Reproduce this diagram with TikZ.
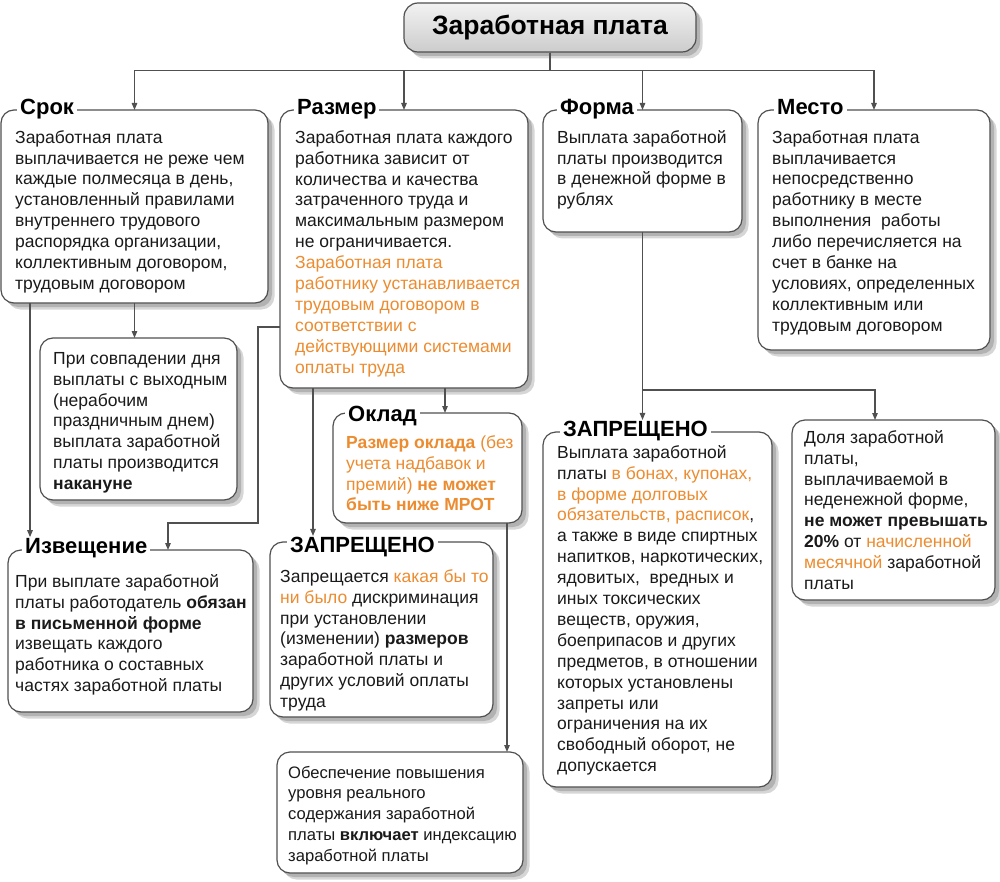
\documentclass[tikz,border=0pt]{standalone}
\usepackage{fontspec}
\setmainfont{Liberation Sans}
\usetikzlibrary{arrows.meta,calc}
\definecolor{ln}{HTML}{505050}
\definecolor{org}{RGB}{236,140,48}
\definecolor{tx}{HTML}{1A1A1A}
\newcommand{\og}[1]{\textcolor{org}{#1}}
\newcommand{\mkbox}[5]{\node[box, minimum width={(#4-#2)*1pt}, minimum height={(#5-#3)*1pt}] (#1) at (#2,#3) {};}
\tikzset{
  shad/.style={preaction={fill=black!16, transform canvas={xshift=6.5pt,yshift=-6.5pt}},
               preaction={fill=black!30, transform canvas={xshift=4pt,yshift=-4pt}}},
  box/.style={shad, draw=ln, line width=1.2pt, rounded corners=13pt, fill=white,
              inner sep=0pt, outer sep=0pt, anchor=north west},
  txt/.style={anchor=north west, align=left, inner sep=0pt, text=tx,
              font=\fontsize{17.5}{20.9}\selectfont},
  head/.style={anchor=base west, fill=white, inner xsep=3pt, inner ysep=0.5pt, text=black,
               xshift=-3pt, font=\bfseries\fontsize{22}{24}\selectfont},
  arr/.style={draw=ln, line width=1.2pt, -{Triangle[length=7pt,width=5.5pt]}},
}
\newcommand{\st}{\rule{0pt}{14pt}}
\begin{document}
\begin{tikzpicture}[x=1pt,y=-1pt]
\useasboundingbox (0,0) rectangle (1000,882);
% title
\node[shad, draw=ln, line width=1.2pt, rounded corners=14pt, top color=black!5, bottom color=black!20,
      minimum width=292pt, minimum height=49pt, inner sep=0pt,
      font=\bfseries\fontsize{26.5}{28}\selectfont] (title) at (550,27.5) {Заработная плата};
% boxes
\mkbox{srok}{1}{110}{268}{303}
\mkbox{razmer}{280}{110}{528}{388}
\mkbox{forma}{543}{110}{742}{232}
\mkbox{mesto}{758}{110}{990}{350}
\mkbox{sovp}{40}{338}{237}{500}
\mkbox{oklad}{333}{413}{522}{523}
\mkbox{izv}{8}{550}{253}{712}
\mkbox{zapr2}{270}{542}{493}{717}
\mkbox{zapr3}{543}{432}{772}{787}
\mkbox{dolya}{792}{420}{995}{600}
\mkbox{obesp}{277}{752}{523}{873}
% headings
\node[head] (hsrok) at (20,115) {Срок};
\node[head] (hrazmer) at (297,115) {Размер};
\node[head] (hforma) at (560,115) {Форма};
\node[head] (hmesto) at (777,115) {Место};
\node[head] (hoklad) at (348,421) {Оклад};
\node[head] (hizv) at (25,553) {Извещение};
\node[head] (hzapr2) at (290,552) {ЗАПРЕЩЕНО};
\node[head] (hzapr3) at (563,436) {ЗАПРЕЩЕНО};
% texts
\node[txt] (tsrok) at (15,129) {\st Заработная плата\\выплачивается не реже чем\\каждые полмесяца в день,\\установленный правилами\\внутреннего трудового\\распорядка организации,\\коллективным договором,\\трудовым договором};
\node[txt] (trazmer) at (295,129) {\st Заработная плата каждого\\работника зависит от\\количества и качества\\затраченного труда и\\максимальным размером\\не ограничивается.\\\og{Заработная плата}\\\og{работнику устанавливается}\\\og{трудовым договором в}\\\og{соответствии с}\\\og{действующими системами}\\\og{оплаты труда}};
\node[txt] (tforma) at (557,129) {\st Выплата заработной\\платы производится\\в денежной форме в\\рублях};
\node[txt] (tmesto) at (772,129) {\st Заработная плата\\выплачивается\\непосредственно\\работнику в месте\\выполнения~ работы\\либо перечисляется на\\счет в банке на\\условиях, определенных\\коллективным или\\трудовым договором};
\node[txt] (tsovp) at (53,350) {\st При совпадении дня\\выплаты с выходным\\(нерабочим\\праздничным днем)\\выплата заработной\\платы производится\\\textbf{накануне}};
\node[txt, text=org] (toklad) at (346,434) {\st\textbf{Размер оклада} (без\\учета надбавок и\\премий) \textbf{не может}\\\textbf{быть ниже МРОТ}};
\node[txt] (tizv) at (15,573) {\st При выплате заработной\\платы работодатель \textbf{обязан}\\\textbf{в письменной форме}\\извещать каждого\\работника о составных\\частях заработной платы};
\node[txt] (tzapr2) at (280,568) {\st Запрещается \og{какая бы то}\\\og{ни было} дискриминация\\при установлении\\(изменении) \textbf{размеров}\\заработной платы и\\других условий оплаты\\труда};
\node[txt] (tzapr3) at (557,444) {\st Выплата заработной\\платы \og{в бонах, купонах,}\\\og{в форме долговых}\\\og{обязательств, расписок},\\а также в виде спиртных\\напитков, наркотических,\\ядовитых,~ вредных и\\иных токсических\\веществ, оружия,\\боеприпасов и других\\предметов, в отношении\\которых установлены\\запреты или\\ограничения на их\\свободный оборот, не\\допускается};
\node[txt] (tdolya) at (804,429) {\st Доля заработной\\платы,\\выплачиваемой в\\неденежной форме,\\\textbf{не может превышать}\\\textbf{20\%} от \og{начисленной}\\\og{месячной} заработной\\платы};
\node[txt, font=\fontsize{16.6}{20.7}\selectfont] (tobesp) at (288,764) {\st Обеспечение повышения\\уровня реального\\содержания заработной\\платы \textbf{включает} индексацию\\заработной платы};
% connectors
\draw[arr] (title.south) -- ++(0,18) -| (srok.north);
\draw[arr] (title.south) -- ++(0,18) -| (razmer.north);
\draw[arr] (title.south) -- ++(0,18) -| (forma.north);
\draw[arr] (title.south) -- ++(0,18) -| (mesto.north);
\draw[arr] (srok.south) -- (srok.south |- sovp.north);
\coordinate (a1) at ([xshift=29pt]srok.south west);
\draw[arr] (a1) -- (a1 |- hizv.north);
\coordinate (a2) at ([yshift=-78pt]razmer.west);
\draw[arr] (a2) -- ++(-22,0) -- ++(0,196) -| ([xshift=160pt]izv.north west);
\coordinate (a3) at ([xshift=112pt]oklad.north west);
\draw[arr] (a3 |- razmer.south) -- (a3);
\coordinate (a4) at ([xshift=43pt]zapr2.north west);
\draw[arr] (a4 |- razmer.south) -- (a4 |- hzapr2.north);
\coordinate (a5) at ([xshift=230pt]obesp.north west);
\draw[arr] (a5 |- oklad.south) -- (a5);
\draw[arr] (forma.south) -- (forma.south |- hzapr3.north);
\draw[arr] (forma.south) -- ++(0,158) -| ([xshift=83pt]dolya.north west);
\end{tikzpicture}
\end{document}
